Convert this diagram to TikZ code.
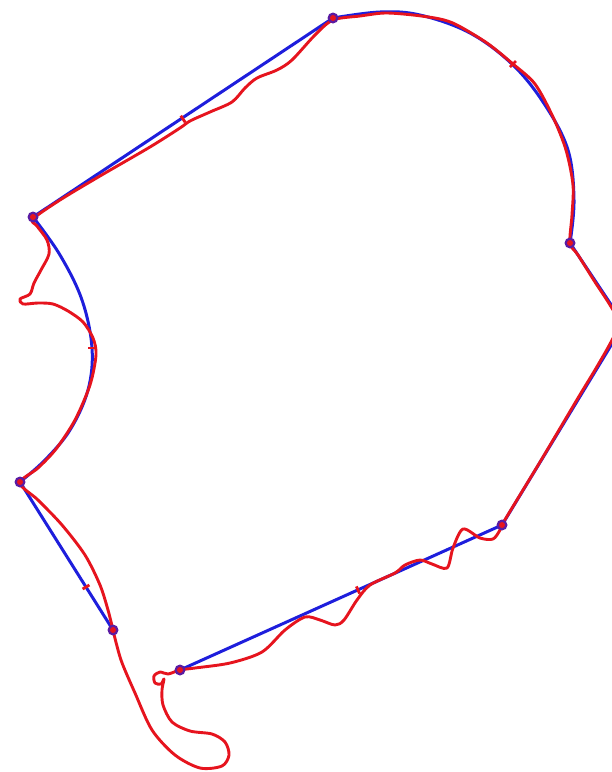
\documentclass[tikz,border=0pt]{standalone}
\definecolor{bl}{RGB}{30,30,220}
\definecolor{rd}{RGB}{230,20,30}
\tikzset{
  blueline/.style={draw=bl,line width=3pt,line join=round,line cap=round},
  redline/.style={draw=rd,line width=2.9pt,line join=round,line cap=round},
  tick/.style={draw=rd,line width=2.8pt},
  vdot/.style={circle,fill=bl!70!rd,inner sep=0pt,minimum size=11pt},
  vcore/.style={circle,fill=rd,inner sep=0pt,minimum size=6pt}
}
\begin{document}
\begin{tikzpicture}[x=1pt,y=-1pt]
\useasboundingbox (0,0) rectangle (612,772);
\clip (0,0) rectangle (612,772);
% vertices
\coordinate (A) at (180,670);
\coordinate (B) at (502,525);
\coordinate (P) at (624,324);
\coordinate (D) at (570,243);
\coordinate (E) at (333,18);
\coordinate (F) at (33,217);
\coordinate (G) at (20,482);
\coordinate (H) at (113,630);
% blue path
\draw[blueline] (A) -- (B) -- (P) -- (D);
\draw[blueline] plot[smooth,tension=0.6] coordinates {(570,243) (574,200) (568,150) (545,105) (513,65) (470,33) (420,15) (380,12) (333,18)};
\draw[blueline] (E) -- (F);
\draw[blueline] plot[smooth,tension=0.6] coordinates {(33,217) (60,255) (82,300) (92,348) (88,390) (70,430) (45,460) (20,482)};
\draw[blueline] (G) -- (H);
% red path
\draw[redline] plot[smooth,tension=0.5] coordinates {
(113,630) (108,610) (100,585) (85,555) (62,525) (38,500) (20,483)
(38,468) (56,449) (75,420) (90,385) (96,355) (93,338) (83,322) (68,311)
(53,304) (38,303) (23,304) (20,299) (30,294) (34,283) (41,270) (49,254)
(47,240) (37,226) (33,219) (60,200) (100,176) (150,147) (180,128) (190,121)
(210,112) (232,102) (245,88) (257,78) (277,70) (292,60) (315,35) (333,20)
(360,16) (385,13) (413,15) (440,19) (457,25) (487,43) (513,64) (535,84)
(553,117) (566,150) (573,185) (572,215) (570,243) (578,255) (595,282)
(610,305) (619,323) (611,342) (595,370) (578,398) (540,462) (503,523) (500,530)
(493,539) (480,538) (463,529) (453,548) (447,568) (432,564) (420,560)
(405,565) (395,573) (370,585) (357,600) (344,620) (335,625) (320,620)
(305,617) (285,630) (262,652) (230,663) (195,668) (180,670) (168,674)
(160,672) (154,676) (155,683) (161,684) (164,679) (162,690) (163,705)
(172,722) (190,731) (212,734) (225,742) (229,755) (222,766) (200,768)
(175,755) (152,730) (135,693) (121,660) (113,630)};
% ticks
\draw[tick] (180.8,115.7) -- (185.2,122.3);
\draw[tick] (88,348) -- (97,348);
\draw[tick] (510,67) -- (516,61);
\draw[tick] (82.6,589) -- (89.4,585);
\draw[tick] (356.4,586.4) -- (359.6,593.6);
% vertex dots
\foreach \v in {A,B,D,E,F,G,H}{
  \node[vdot] (d\v) at (\v) {};
  \node[vcore] (c\v) at (\v) {};
}
\end{tikzpicture}
\end{document}
